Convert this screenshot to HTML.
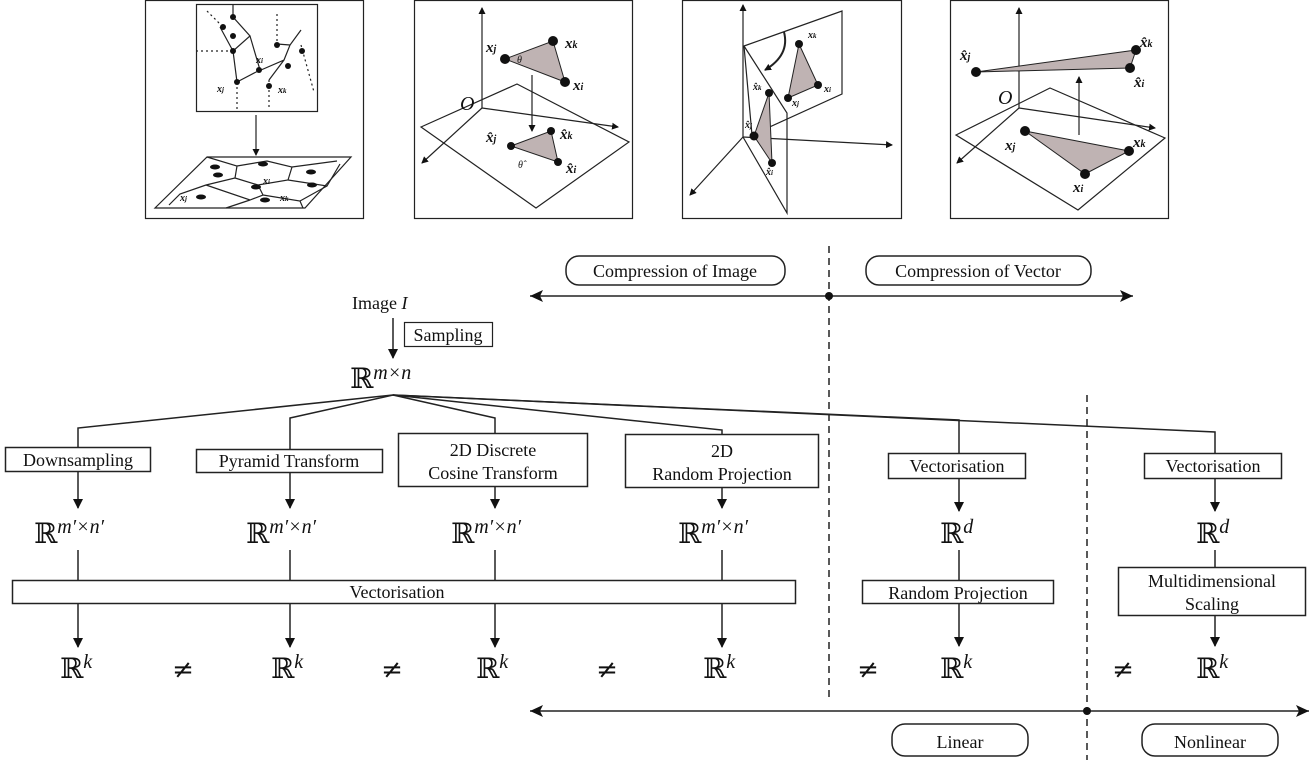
<!DOCTYPE html>
<html><head><meta charset="utf-8"><style>
html,body{margin:0;padding:0;background:#fff;}
svg{display:block;font-family:"Liberation Serif","DejaVu Serif",serif;}
.t{font-size:18px;fill:#111;}
.R{font-size:28px;fill:#111;font-family:"DejaVu Serif",serif;}
.sup{font-size:20px;font-style:italic;font-family:"Liberation Serif",serif;}
.b{font-weight:bold;font-style:italic;font-size:15px;fill:#111;}
.s{font-weight:bold;font-style:italic;font-size:10px;fill:#111;}
</style></head><body>
<svg width="1313" height="760" viewBox="0 0 1313 760" xmlns="http://www.w3.org/2000/svg">
<defs>
<marker id="a" markerWidth="10" markerHeight="10" refX="9" refY="5" orient="auto" markerUnits="userSpaceOnUse"><path d="M0,0 L10,5 L0,10 Z" fill="#111"/></marker>
<marker id="as" markerWidth="7" markerHeight="7" refX="6" refY="3.5" orient="auto" markerUnits="userSpaceOnUse"><path d="M0,0 L7,3.5 L0,7 Z" fill="#111"/></marker>
<marker id="A" markerWidth="14" markerHeight="14" refX="13" refY="6" orient="auto" markerUnits="userSpaceOnUse"><path d="M0,0 L13,6 L0,12 L3,6 Z" fill="#111"/></marker>
</defs>
<g fill="none" stroke="#222" stroke-width="1.2">
<rect x="145.5" y="0.5" width="218" height="218"/>
<rect x="414.5" y="0.5" width="218" height="218"/>
<rect x="682.5" y="0.5" width="219" height="218"/>
<rect x="950.5" y="0.5" width="218" height="218"/>
<rect x="196.5" y="4.5" width="121" height="107"/>
<line x1="256" y1="115" x2="256" y2="155" marker-end="url(#as)"/>
<polygon points="207,157 351,157 305,208 155,208"/>
<path d="M207,157 L237,166 L235,178 L206,185 M237,166 L267,161 L292,167 L288,180 L258,185 L235,178 M292,167 L337,161 M288,180 L327,186 L340,164 M258,185 L263,195 L250,200 L206,185 M206,185 L180,194 L169,205 M263,195 L300,201 L303,208 M300,201 L327,186 M250,200 L226,208"/>
<path d="M233,5 L233,17 L250,36 L233,51 L237,82 M250,36 L260,70 L237,82 M261,70 L284,60 L290,45 L301,30 M284,60 L269,80 M290,45 L277,44 M233,51 L220,27"/>
<path d="M207,11 L222,26 M196,51 L233,51 M237,82 L237,110 M269,80 L269,110 M277,14 L277,44 M301,45 L314,92" stroke-dasharray="2,3"/>
</g>
<g fill="#111">
<circle cx="233" cy="17" r="3"/><circle cx="233" cy="36" r="3"/><circle cx="223" cy="27" r="3"/><circle cx="233" cy="51" r="3"/>
<circle cx="237" cy="82" r="3"/><circle cx="259" cy="70" r="3"/><circle cx="269" cy="86" r="3"/><circle cx="288" cy="66" r="3"/><circle cx="277" cy="45" r="3"/><circle cx="302" cy="51" r="3"/>
<ellipse cx="215" cy="167" rx="5" ry="2.5"/><ellipse cx="263" cy="164" rx="5" ry="2.5"/><ellipse cx="311" cy="172" rx="5" ry="2.5"/><ellipse cx="218" cy="175" rx="5" ry="2.5"/><ellipse cx="256" cy="187" rx="5" ry="2.5"/><ellipse cx="312" cy="185" rx="5" ry="2.5"/><ellipse cx="201" cy="197" rx="5" ry="2.5"/><ellipse cx="265" cy="200" rx="5" ry="2.5"/>
</g>
<text class="s" x="256" y="63">x<tspan font-size="7">i</tspan></text>
<text class="s" x="217" y="92">x<tspan font-size="7">j</tspan></text>
<text class="s" x="278" y="93">x<tspan font-size="7">k</tspan></text>
<text class="s" x="263" y="184">x<tspan font-size="7">i</tspan></text>
<text class="s" x="180" y="201">x<tspan font-size="7">j</tspan></text>
<text class="s" x="280" y="201">x<tspan font-size="7">k</tspan></text>
<g fill="none" stroke="#222" stroke-width="1.2">
<polygon points="421,127 517,84 629,142 536,208"/>
<line x1="482" y1="108" x2="482" y2="8" marker-end="url(#as)"/>
<line x1="482" y1="108" x2="618" y2="127" marker-end="url(#as)"/>
<line x1="482" y1="108" x2="422" y2="163" marker-end="url(#as)"/>
<line x1="532" y1="75" x2="532" y2="131" marker-end="url(#as)"/>
</g>
<polygon points="505,59 553,41 565,82" fill="#bfb3b3" stroke="#222"/>
<polygon points="511,146 551,131 558,162" fill="#bfb3b3" stroke="#222"/>
<g fill="#111"><circle cx="505" cy="59" r="5"/><circle cx="553" cy="41" r="5"/><circle cx="565" cy="82" r="5"/><circle cx="511" cy="146" r="4"/><circle cx="551" cy="131" r="4"/><circle cx="558" cy="162" r="4"/></g>
<text x="460" y="110" font-size="20" font-style="italic" fill="#111">O</text>
<text class="b" x="486" y="52">x<tspan font-size="10">j</tspan></text>
<text class="b" x="565" y="48">x<tspan font-size="10">k</tspan></text>
<text class="b" x="573" y="90">x<tspan font-size="10">i</tspan></text>
<text class="b" x="486" y="142">x̂<tspan font-size="10">j</tspan></text>
<text class="b" x="560" y="139">x̂<tspan font-size="10">k</tspan></text>
<text class="b" x="566" y="173">x̂<tspan font-size="10">i</tspan></text>
<text x="517" y="63" font-size="10" font-style="italic" fill="#111">θ</text>
<text x="518" y="168" font-size="10" font-style="italic" fill="#111">θ̂</text>
<g fill="none" stroke="#222" stroke-width="1.2">
<polygon points="744,46 842,11 842,94 752,135"/>
<polyline points="744,46 787,113 787,213 743,137"/>
<line x1="743" y1="137" x2="743" y2="5" marker-end="url(#as)"/>
<line x1="743" y1="137" x2="892" y2="145" marker-end="url(#as)"/>
<line x1="743" y1="137" x2="690" y2="195" marker-end="url(#as)"/>
<path d="M784,32 Q790,55 765,70" marker-end="url(#as)" stroke-width="2"/>
</g>
<polygon points="799,44 818,85 788,98" fill="#bfb3b3" stroke="#222"/>
<polygon points="769,93 754,136 772,163" fill="#bfb3b3" stroke="#222"/>
<g fill="#111"><circle cx="799" cy="44" r="4"/><circle cx="818" cy="85" r="4"/><circle cx="788" cy="98" r="4"/><circle cx="769" cy="93" r="4"/><circle cx="754" cy="136" r="4.5"/><circle cx="772" cy="163" r="4"/></g>
<text class="s" x="808" y="38">x<tspan font-size="7">k</tspan></text>
<text class="s" x="824" y="92">x<tspan font-size="7">i</tspan></text>
<text class="s" x="792" y="106">x<tspan font-size="7">j</tspan></text>
<text class="s" x="753" y="90">x̂<tspan font-size="7">k</tspan></text>
<text class="s" x="745" y="128">x̂<tspan font-size="7">j</tspan></text>
<text class="s" x="766" y="175">x̂<tspan font-size="7">i</tspan></text>
<g fill="none" stroke="#222" stroke-width="1.2">
<polygon points="956,135 1050,88 1165,138 1078,210"/>
<line x1="1019" y1="108" x2="1019" y2="8" marker-end="url(#as)"/>
<line x1="1019" y1="108" x2="1155" y2="128" marker-end="url(#as)"/>
<line x1="1019" y1="108" x2="957" y2="163" marker-end="url(#as)"/>
<line x1="1079" y1="135" x2="1079" y2="77" marker-end="url(#as)"/>
</g>
<polygon points="976,72 1136,50 1130,68" fill="#bfb3b3" stroke="#222"/>
<polygon points="1025,131 1129,151 1085,174" fill="#bfb3b3" stroke="#222"/>
<g fill="#111"><circle cx="976" cy="72" r="5"/><circle cx="1136" cy="50" r="5"/><circle cx="1130" cy="68" r="5"/><circle cx="1025" cy="131" r="5"/><circle cx="1129" cy="151" r="5"/><circle cx="1085" cy="174" r="5"/></g>
<text x="998" y="104" font-size="20" font-style="italic" fill="#111">O</text>
<text class="b" x="960" y="60">x̂<tspan font-size="10">j</tspan></text>
<text class="b" x="1140" y="47">x̂<tspan font-size="10">k</tspan></text>
<text class="b" x="1134" y="87">x̂<tspan font-size="10">i</tspan></text>
<text class="b" x="1005" y="150">x<tspan font-size="10">j</tspan></text>
<text class="b" x="1133" y="147">x<tspan font-size="10">k</tspan></text>
<text class="b" x="1073" y="192">x<tspan font-size="10">i</tspan></text>

<g fill="none" stroke="#222" stroke-width="1.5">
<line x1="700" y1="296" x2="530" y2="296" marker-end="url(#A)"/>
<line x1="700" y1="296" x2="1133" y2="296" marker-end="url(#A)"/>
<line x1="829" y1="246" x2="829" y2="700" stroke-dasharray="7,5"/>
<line x1="1087" y1="395" x2="1087" y2="760" stroke-dasharray="7,5"/>
<line x1="820" y1="711" x2="530" y2="711" marker-end="url(#A)"/>
<line x1="820" y1="711" x2="1309" y2="711" marker-end="url(#A)"/>
<rect x="566" y="256" width="219" height="29" rx="13"/>
<rect x="866" y="256" width="225" height="29" rx="13"/>
<rect x="892" y="724" width="136" height="32" rx="13"/>
<rect x="1142" y="724" width="136" height="32" rx="13"/>
</g>
<circle cx="829" cy="296" r="4" fill="#111"/>
<circle cx="1087" cy="711" r="4" fill="#111"/>
<text class="t" x="675" y="277" text-anchor="middle" font-size="19">Compression of Image</text>
<text class="t" x="978" y="277" text-anchor="middle" font-size="19">Compression of Vector</text>
<text class="t" x="960" y="748" text-anchor="middle" font-size="21">Linear</text>
<text class="t" x="1210" y="748" text-anchor="middle" font-size="21">Nonlinear</text>

<text class="t" x="352" y="309" font-size="21">Image <tspan font-style="italic">I</tspan></text>
<line x1="393" y1="318" x2="393" y2="358" stroke="#222" stroke-width="1.5" marker-end="url(#a)"/>
<rect x="404.5" y="322.5" width="88" height="24" fill="none" stroke="#222" stroke-width="1.2"/>
<text class="t" x="448" y="341" text-anchor="middle">Sampling</text>
<text class="R" x="350" y="388">ℝ<tspan class="sup" dy="-9">m×n</tspan></text>

<g fill="none" stroke="#222" stroke-width="1.5">
<polyline points="393,395 78,428 78,447"/>
<polyline points="393,395 290,418 290,449"/>
<polyline points="393,395 495,418 495,433"/>
<polyline points="393,395 722,430 722,434"/>
<polyline points="393,395 959,420 959,453"/>
<polyline points="393,395 1215,432 1215,453"/>
<rect x="5.5" y="447.5" width="145" height="24"/>
<rect x="196.5" y="449.5" width="186" height="23"/>
<rect x="398.5" y="433.5" width="189" height="53"/>
<rect x="625.5" y="434.5" width="193" height="53"/>
<rect x="888.5" y="453.5" width="137" height="25"/>
<rect x="1144.5" y="453.5" width="137" height="25"/>
<line x1="78" y1="472" x2="78" y2="508" marker-end="url(#a)"/>
<line x1="290" y1="473" x2="290" y2="508" marker-end="url(#a)"/>
<line x1="495" y1="487" x2="495" y2="508" marker-end="url(#a)"/>
<line x1="722" y1="488" x2="722" y2="508" marker-end="url(#a)"/>
<line x1="959" y1="479" x2="959" y2="511" marker-end="url(#a)"/>
<line x1="1215" y1="479" x2="1215" y2="511" marker-end="url(#a)"/>
<line x1="78" y1="550" x2="78" y2="581"/>
<line x1="290" y1="550" x2="290" y2="581"/>
<line x1="495" y1="550" x2="495" y2="581"/>
<line x1="722" y1="550" x2="722" y2="581"/>
<rect x="12.5" y="580.5" width="783" height="23"/>
<line x1="78" y1="604" x2="78" y2="647" marker-end="url(#a)"/>
<line x1="290" y1="604" x2="290" y2="647" marker-end="url(#a)"/>
<line x1="495" y1="604" x2="495" y2="647" marker-end="url(#a)"/>
<line x1="722" y1="604" x2="722" y2="647" marker-end="url(#a)"/>
<line x1="959" y1="550" x2="959" y2="580"/>
<rect x="862.5" y="580.5" width="191" height="23"/>
<line x1="959" y1="604" x2="959" y2="646" marker-end="url(#a)"/>
<line x1="1215" y1="550" x2="1215" y2="567"/>
<rect x="1118.5" y="567.5" width="187" height="48"/>
<line x1="1215" y1="616" x2="1215" y2="646" marker-end="url(#a)"/>
</g>
<text class="t" x="78" y="466" text-anchor="middle">Downsampling</text>
<text class="t" x="289" y="467" text-anchor="middle">Pyramid Transform</text>
<text class="t" x="493" y="456" text-anchor="middle">2D Discrete</text>
<text class="t" x="493" y="479" text-anchor="middle">Cosine Transform</text>
<text class="t" x="722" y="457" text-anchor="middle">2D</text>
<text class="t" x="722" y="480" text-anchor="middle">Random Projection</text>
<text class="t" x="957" y="472" text-anchor="middle">Vectorisation</text>
<text class="t" x="1213" y="472" text-anchor="middle">Vectorisation</text>
<text class="t" x="397" y="598" text-anchor="middle">Vectorisation</text>
<text class="t" x="958" y="599" text-anchor="middle">Random Projection</text>
<text class="t" x="1212" y="587" text-anchor="middle">Multidimensional</text>
<text class="t" x="1212" y="610" text-anchor="middle">Scaling</text>

<g class="R">
<text x="34" y="543">ℝ<tspan class="sup" dy="-10">m′×n′</tspan></text>
<text x="246" y="543">ℝ<tspan class="sup" dy="-10">m′×n′</tspan></text>
<text x="451" y="543">ℝ<tspan class="sup" dy="-10">m′×n′</tspan></text>
<text x="678" y="543">ℝ<tspan class="sup" dy="-10">m′×n′</tspan></text>
<text x="940" y="543">ℝ<tspan class="sup" dy="-10">d</tspan></text>
<text x="1196" y="543">ℝ<tspan class="sup" dy="-10">d</tspan></text>
<text x="60" y="678">ℝ<tspan class="sup" dy="-10">k</tspan></text>
<text x="271" y="678">ℝ<tspan class="sup" dy="-10">k</tspan></text>
<text x="476" y="678">ℝ<tspan class="sup" dy="-10">k</tspan></text>
<text x="703" y="678">ℝ<tspan class="sup" dy="-10">k</tspan></text>
<text x="940" y="678">ℝ<tspan class="sup" dy="-10">k</tspan></text>
<text x="1196" y="678">ℝ<tspan class="sup" dy="-10">k</tspan></text>
</g>
<g font-family="DejaVu Serif, serif" font-size="26" fill="#111" text-anchor="middle">
<text x="183" y="678">≠</text><text x="392" y="678">≠</text><text x="607" y="678">≠</text><text x="868" y="678">≠</text><text x="1123" y="678">≠</text>
</g>
</svg>
</body></html>
